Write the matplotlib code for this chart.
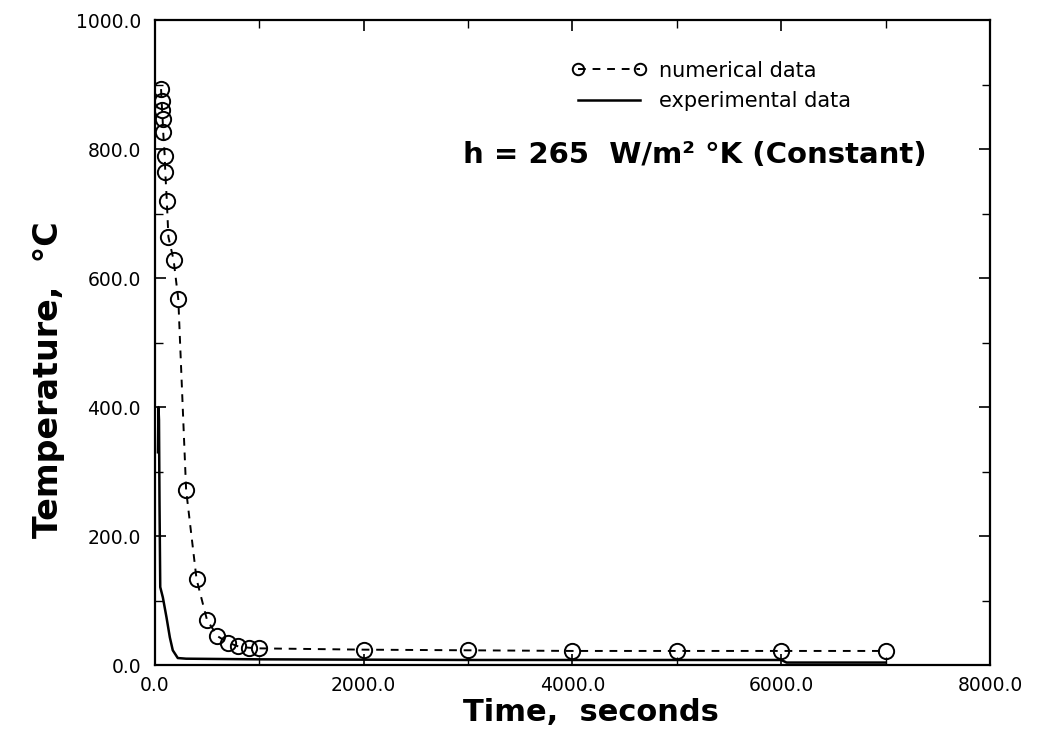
import matplotlib
matplotlib.use("Agg")
import matplotlib.pyplot as plt
from matplotlib.ticker import MultipleLocator, FormatStrFormatter

plt.rcParams['font.family'] = ['DejaVu Sans']

# numerical data
num_time = [60, 65, 70, 75, 80, 95, 100, 115, 130, 180, 225, 300, 400, 500, 600,
            700, 800, 900, 1000, 2000, 3000, 4000, 5000, 6000, 7000]
num_temp = [893, 875, 860, 846, 827, 789, 765, 720, 664, 628, 567, 271, 133, 70, 45,
            35, 29, 27, 26, 24, 23, 22, 22, 22, 22]

# experimental data
exp_time = [30, 35, 40, 45, 52, 77, 112, 144, 172, 220, 300, 1000, 3000, 6000, 6050, 7000]
exp_temp = [330, 400, 380, 250, 121, 105, 74, 43, 23, 11, 10, 9, 8, 8, 4, 4]

fig = plt.figure(figsize=(10.39, 7.44), dpi=100)
ax = fig.add_axes([0.149, 0.106, 0.804, 0.867])

ax.plot(num_time, num_temp, color='black', linestyle=(0, (4, 3.5)), linewidth=1.4,
        marker='o', markersize=11, markerfacecolor='none', markeredgecolor='black',
        markeredgewidth=1.4, label='numerical data')
ax.plot(exp_time, exp_temp, color='black', linestyle='-', linewidth=1.8,
        label='experimental data')

ax.set_xlim(0, 8000)
ax.set_ylim(0, 1000)
ax.xaxis.set_major_locator(MultipleLocator(2000))
ax.xaxis.set_minor_locator(MultipleLocator(1000))
ax.yaxis.set_major_locator(MultipleLocator(200))
ax.yaxis.set_minor_locator(MultipleLocator(100))
ax.xaxis.set_major_formatter(FormatStrFormatter('%.1f'))
ax.yaxis.set_major_formatter(FormatStrFormatter('%.1f'))
ax.tick_params(which='both', direction='in', top=True, right=True, labelsize=13.5)
ax.tick_params(which='major', length=8, width=1.2)
ax.tick_params(axis='x', which='major', pad=8)
ax.tick_params(axis='y', which='major', pad=10)
ax.tick_params(which='minor', length=6, width=1.0)
for s in ax.spines.values():
    s.set_linewidth(1.6)

ax.set_xlabel('Time,  seconds', fontsize=22, fontweight='bold')
ax.set_ylabel('Temperature,  °C', fontsize=24, fontweight='bold')
ax.xaxis.set_label_coords(0.522, -0.051)
ax.yaxis.set_label_coords(-0.108, 0.442)

ax.text(0.369, 0.778, 'h = 265  W/m² °K (Constant)', transform=ax.transAxes,
        fontsize=21, fontweight='bold', ha='left', va='baseline')

ax.legend(loc='upper left', bbox_to_anchor=(0.489, 0.950), frameon=False, numpoints=2,
          handlelength=3.6, handletextpad=0.58, fontsize=15, labelspacing=0.49,
          markerscale=0.75, borderaxespad=0)

fig.savefig('out.png', dpi=100)
